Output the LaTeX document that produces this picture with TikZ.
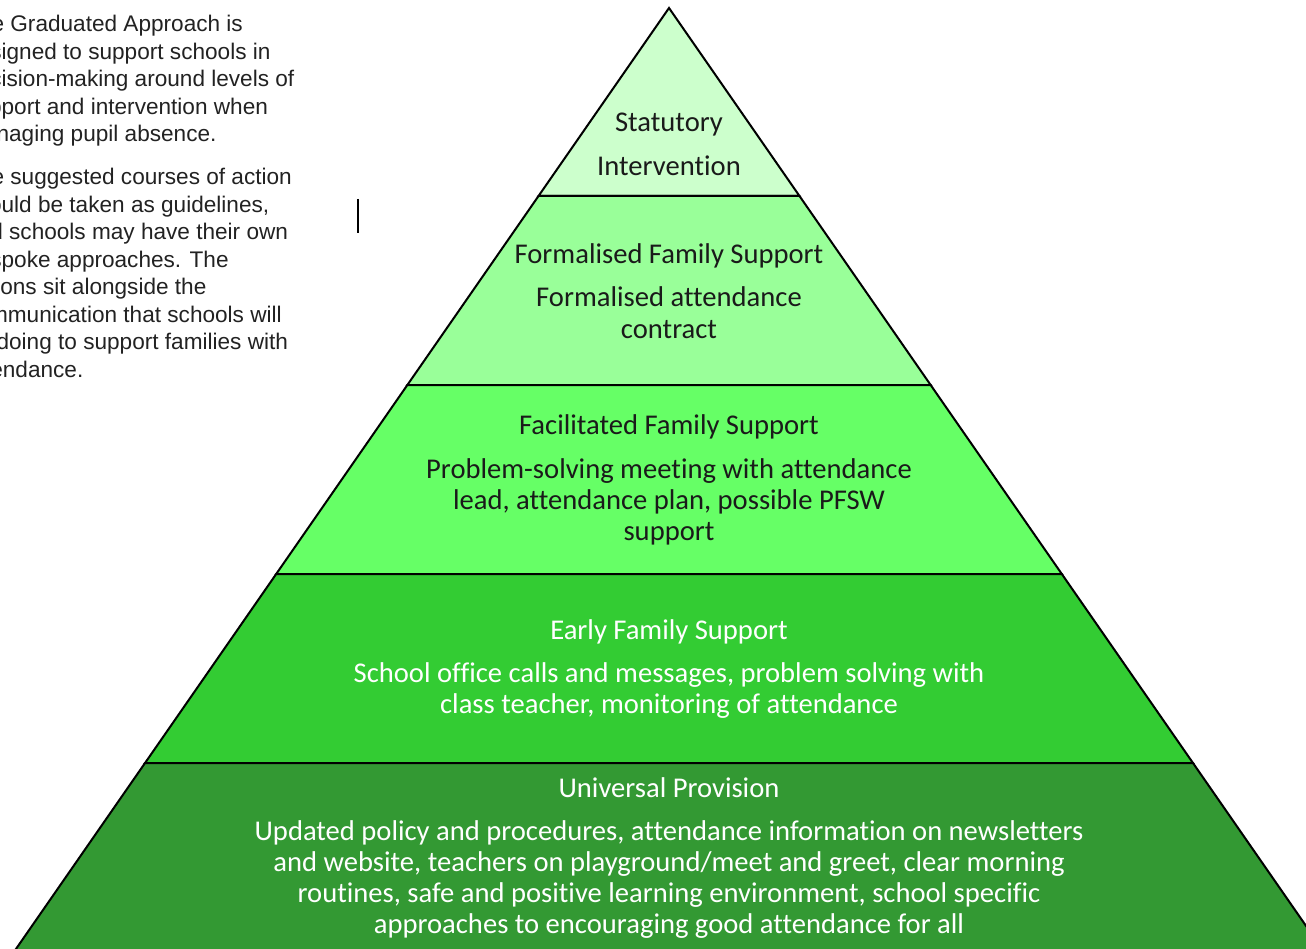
\documentclass[tikz,border=0pt]{standalone}
\usepackage{fontspec}
\setmainfont{Carlito}[Ligatures=NoCommon]
\newfontfamily\arialfont{Liberation Sans}
\definecolor{lvlA}{HTML}{CCFFCC}
\definecolor{lvlB}{HTML}{99FF99}
\definecolor{lvlC}{HTML}{66FF66}
\definecolor{lvlD}{HTML}{33CC33}
\definecolor{lvlE}{HTML}{339933}
\definecolor{darktext}{HTML}{1A1A1A}
\definecolor{notetext}{HTML}{222222}
\begin{document}
\begin{tikzpicture}[x=1pt, y=-1pt,
		level box/.style={draw=black, line width=2pt, line join=miter},
		level text/.style={align=center, inner sep=0pt, font=\fontsize{28.6}{31.2}\selectfont},
		note text/.style={align=left, anchor=north west, inner sep=0pt, text=notetext,
			font=\arialfont\fontsize{22.6}{27.5}\selectfont}
		]
	\useasboundingbox (0,0) rectangle (1306,949);
	\clip (0,0) rectangle (1306,949);
	% pyramid levels: top y / bottom y / colour
	\foreach \ya/\yb/\col in {8/196/lvlA, 196/385/lvlB, 385/574/lvlC, 574/763/lvlD, 763/970/lvlE}{
		\pgfmathsetmacro\wa{(\ya-8)*0.694}
		\pgfmathsetmacro\wb{(\yb-8)*0.694}
		\draw [level box, fill=\col] (669-\wa,\ya) -- (669+\wa,\ya) -- (669+\wb,\yb) -- (669-\wb,\yb) -- cycle;
	}
	% level texts
	\node [level text, text=darktext] (statutory) at (669,144) {Statutory\\[13pt]Intervention};
	\node [level text, text=darktext] (formalised) at (669,291) {Formalised Family Support\\[12pt]Formalised attendance\\contract};
	\node [level text, text=darktext] (facilitated) at (669,480) {Facilitated Family Support\\[12pt]Problem-solving meeting with attendance\\lead, attendance plan, possible PFSW\\support};
	\node [level text, text=white] (early) at (669,669) {Early Family Support\\[12pt]School office calls and messages, problem solving with\\class teacher, monitoring of attendance};
	\node [level text, text=white] (universal) at (669,858) {Universal Provision\\[12pt]Updated policy and procedures, attendance information on newsletters\\and website, teachers on playground/meet and greet, clear morning\\routines, safe and positive learning environment, school specific\\approaches to encouraging good attendance for all};
	% side note, cut at the left edge
	\node [note text] (notea) at (-35,15) {The Graduated Approach is\\designed to support schools in\\decision-making around levels of\\support and intervention when\\managing pupil absence.};
	\node [note text] (noteb) at (-35,168) {The suggested courses of action\\should be taken as guidelines,\\and schools may have their own\\bespoke approaches. The\\actions sit alongside the\\communication that schools will\\be doing to support families with\\attendance.};
	% text cursor
	\coordinate (cursortop) at (358,199);
	\coordinate (cursorbot) at (358,233);
	\draw [line width=2pt] (cursortop) -- (cursorbot);
\end{tikzpicture}
\end{document}
